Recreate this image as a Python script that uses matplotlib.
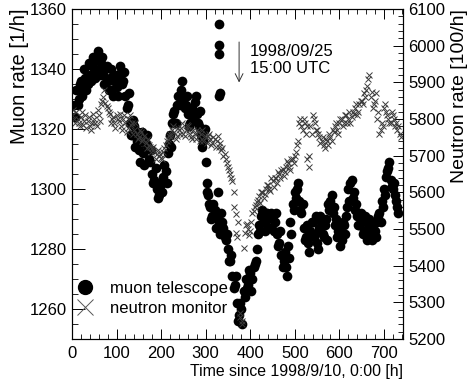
import numpy as np
import matplotlib
matplotlib.use("Agg")
import matplotlib.pyplot as plt
from matplotlib.lines import Line2D
from matplotlib.ticker import MultipleLocator

plt.rcParams['font.family'] = ['Liberation Sans', 'DejaVu Sans']
plt.rcParams['font.size'] = 12

# muon telescope, counts per hour (read every 5 h, two readings per step)
muon_t = list(range(5, 735, 5))
muon_rate = [1328, 1333, 1330, 1336, 1333, 1337, 1335, 1338, 1341, 1339,
             1343, 1340, 1342, 1338, 1340, 1336, 1337, 1333, 1336, 1334,
             1338, 1339, 1336, 1331, 1328, 1322, 1318, 1321, 1316, 1313,
             1316, 1312, 1315, 1314, 1309, 1305, 1303, 1300, 1298, 1302,
             1304, 1306, 1312, 1318, 1322, 1326, 1328, 1331, 1333, 1330,
             1328, 1325, 1322, 1327, 1329, 1325, 1321, 1318, 1316, 1309,
             1298, 1294, 1291, 1293, 1290, 1288, 1292, 1287, 1283, 1280,
             1276, 1271, 1268, 1262, 1258, 1260, 1266, 1270, 1268, 1272,
             1270, 1275, 1280, 1288, 1291, 1289, 1292, 1290, 1287, 1291,
             1289, 1285, 1282, 1278, 1276, 1274, 1281, 1289, 1295, 1299,
             1300, 1296, 1292, 1287, 1284, 1282, 1286, 1289, 1285, 1282,
             1287, 1289, 1284, 1290, 1295, 1296, 1292, 1288, 1284, 1286,
             1283, 1288, 1291, 1300, 1302, 1297, 1293, 1291, 1288, 1290,
             1286, 1289, 1287, 1285, 1288, 1286, 1289, 1292, 1296, 1300,
             1304, 1307, 1303, 1300, 1298, 1294]
muon_t_b = [t + 2.5 for t in muon_t]
muon_rate_b = [1324, 1328, 1335, 1331, 1340, 1333, 1342, 1336, 1344, 1337,
               1346, 1338, 1344, 1335, 1341, 1333, 1340, 1331, 1338, 1331,
               1341, 1335, 1339, 1327, 1332, 1318, 1323, 1314, 1319, 1309,
               1319, 1308, 1318, 1310, 1313, 1302, 1307, 1297, 1301, 1299,
               1308, 1302, 1315, 1314, 1325, 1322, 1331, 1328, 1336, 1327,
               1331, 1321, 1325, 1323, 1331, 1322, 1326, 1314, 1320, 1302,
               1295, 1290, 1295, 1287, 1292, 1285, 1289, 1284, 1285, 1276,
               1278, 1267, 1271, 1256, 1262, 1255, 1264, 1267, 1273, 1266,
               1274, 1276, 1285, 1286, 1293, 1286, 1292, 1287, 1292, 1286,
               1292, 1281, 1286, 1274, 1279, 1271, 1277, 1285, 1293, 1297,
               1302, 1293, 1295, 1283, 1288, 1279, 1289, 1284, 1291, 1280,
               1291, 1285, 1288, 1283, 1293, 1298, 1294, 1290, 1286, 1281,
               1289, 1285, 1294, 1296, 1303, 1299, 1295, 1288, 1292, 1285,
               1291, 1283, 1290, 1283, 1289, 1284, 1291, 1289, 1294, 1298,
               1306, 1309, 1301, 1302, 1296, 1292]
# isolated muon points around the jump
muon_extra_t = [302, 327, 331, 331, 331, 331, 332]
muon_extra = [1299, 1299, 1355, 1348, 1345, 1331, 1332]

# neutron monitor, counts per 100 h
neutron_t = [0, 5, 10, 15, 20, 25, 30, 35, 40, 45, 50, 55, 60, 65, 70, 75,
             80, 85, 90, 95, 100, 105, 110, 115, 120, 125, 130, 135, 140,
             145, 150, 155, 160, 165, 170, 175, 180, 185, 190, 195, 200,
             205, 210, 215, 220, 225, 230, 235, 240, 245, 250, 255, 260,
             265, 270, 275, 280, 285, 290, 295, 300, 305, 310, 315, 320,
             325, 330, 335, 340, 345, 350, 355, 360, 363, 367, 370, 378,
             382, 385, 390, 395, 400, 405, 410, 415, 420, 425, 430, 435,
             440, 445, 450, 455, 460, 465, 470, 475, 480, 485, 490, 495,
             500, 505, 510, 515, 520, 525, 528, 531, 535, 540, 545, 550,
             555, 560, 565, 570, 575, 580, 585, 590, 595, 600, 605, 610,
             615, 620, 625, 630, 635, 640, 645, 650, 655, 660, 665, 670,
             675, 680, 685, 690, 695, 700, 705, 710, 715, 720, 725, 730,
             735]
neutron_rate = [5810, 5800, 5820, 5790, 5805, 5785, 5810, 5795, 5780, 5790,
                5800, 5780, 5810, 5840, 5860, 5845, 5830, 5815, 5800, 5790,
                5810, 5795, 5780, 5800, 5790, 5775, 5810, 5790, 5770, 5760,
                5750, 5765, 5745, 5735, 5745, 5725, 5720, 5710, 5705, 5700,
                5695, 5710, 5730, 5745, 5760, 5770, 5765, 5755, 5770, 5775,
                5760, 5770, 5780, 5760, 5745, 5760, 5770, 5755, 5760, 5740,
                5750, 5755, 5745, 5735, 5745, 5740, 5725, 5715, 5700, 5690,
                5670, 5650, 5630, 5560, 5490, 5478, 5260, 5240, 5448, 5510,
                5500, 5495, 5545, 5560, 5575, 5590, 5600, 5585, 5610, 5620,
                5605, 5630, 5640, 5625, 5650, 5660, 5645, 5670, 5680, 5660,
                5690, 5700, 5730, 5790, 5780, 5800, 5760, 5690, 5670, 5780,
                5810, 5790, 5770, 5750, 5740, 5730, 5745, 5730, 5750, 5770,
                5780, 5770, 5790, 5800, 5790, 5810, 5800, 5790, 5820, 5830,
                5810, 5840, 5850, 5870, 5880, 5910, 5860, 5830, 5850, 5800,
                5760, 5790, 5830, 5820, 5800, 5790, 5810, 5780, 5770, 5760]
neutron_t_b = [t + 2.5 for t in range(0, 740, 5)]
neutron_rate_b = [5825, 5790, 5800, 5780, 5820, 5795, 5775, 5805, 5770, 5815,
                  5790, 5825, 5795, 5850, 5880, 5835, 5820, 5790, 5805, 5775,
                  5800, 5815, 5770, 5810, 5765, 5800, 5785, 5760, 5790, 5745,
                  5770, 5740, 5755, 5720, 5730, 5710, 5725, 5690, 5715, 5705,
                  5690, 5720, 5740, 5755, 5750, 5780, 5745, 5775, 5760, 5790,
                  5755, 5785, 5770, 5750, 5770, 5745, 5765, 5740, 5770, 5755,
                  5735, 5760, 5730, 5750, 5725, 5755, 5735, 5720, 5705, 5680,
                  5660, 5640, 5600, 5540, 5520, 5270, 5250, 5490, 5515, 5485,
                  5520, 5550, 5565, 5580, 5570, 5600, 5595, 5620, 5610, 5640,
                  5615, 5640, 5655, 5640, 5665, 5655, 5685, 5670, 5690, 5680,
                  5710, 5740, 5800, 5770, 5790, 5780, 5700, 5760, 5800, 5770,
                  5760, 5735, 5750, 5720, 5740, 5760, 5740, 5765, 5790, 5760,
                  5800, 5780, 5810, 5790, 5820, 5805, 5815, 5840, 5820, 5850,
                  5840, 5860, 5890, 5920, 5875, 5840, 5870, 5820, 5770, 5780,
                  5840, 5810, 5790, 5820, 5800, 5790, 5780, 5750]

event_t = 375  # 1998/09/25 15:00 UTC

fig = plt.figure(figsize=(4.69, 3.84), dpi=100)
ax = fig.add_axes([0.1535, 0.117, 0.705, 0.8596])
ax2 = ax.twinx()

mt = np.concatenate([muon_t, muon_t_b, muon_extra_t])
mr = np.concatenate([muon_rate, muon_rate_b, muon_extra])
ax.plot(mt, mr, 'o', color='black', ms=7, mec='black', mew=0)

nt = np.concatenate([neutron_t, neutron_t_b])
nr = np.concatenate([neutron_rate, neutron_rate_b])
ax2.plot(nt, nr, 'x', color='#3a3a3a', ms=4.5, mew=0.7)

ax.set_xlim(0, 742)
ax.set_ylim(1250, 1360)
ax2.set_ylim(5200, 6100)

ax.xaxis.set_major_locator(MultipleLocator(100))
ax.xaxis.set_minor_locator(MultipleLocator(20))
ax.yaxis.set_major_locator(MultipleLocator(20))
ax.yaxis.set_minor_locator(MultipleLocator(5))
ax2.yaxis.set_major_locator(MultipleLocator(100))
ax2.yaxis.set_minor_locator(MultipleLocator(20))

ax.tick_params(axis='x', which='both', direction='in', top=True, pad=5)
ax.tick_params(axis='x', which='major', length=7, width=0.7)
ax.tick_params(axis='x', which='minor', length=3.5, width=0.6)
ax.tick_params(axis='y', which='both', direction='in', right=False, pad=4)
ax.tick_params(axis='y', which='major', length=9, width=0.7)
ax.tick_params(axis='y', which='minor', length=4.5, width=0.6)
ax2.tick_params(axis='y', which='both', direction='in', pad=4)
ax2.tick_params(axis='y', which='major', length=7, width=0.7)
ax2.tick_params(axis='y', which='minor', length=3.5, width=0.6)
for a in (ax, ax2):
    for s in a.spines.values():
        s.set_linewidth(0.8)

ax.set_xlabel('Time since 1998/9/10, 0:00 [h]', loc='right', labelpad=2,
              fontsize=11.4)
ax.set_ylabel('Muon rate [1/h]', loc='top', labelpad=0, fontsize=14.5)
ax2.set_ylabel('Neutron rate [100/h]', loc='top', labelpad=4, fontsize=14)

ax.annotate('', xy=(event_t, 1335.5), xytext=(event_t, 1349),
            arrowprops=dict(arrowstyle='->', color='#333333', lw=0.7,
                            mutation_scale=14, shrinkA=0, shrinkB=0))
ax.text(event_t + 25, 1343, '1998/09/25\n15:00 UTC', ha='left', va='center',
        linespacing=1.2)

handles = [Line2D([], [], ls='', marker='o', color='black', ms=10),
           Line2D([], [], ls='', marker='x', color='#555555', ms=11, mew=0.7)]
ax2.legend(handles, ['muon telescope', 'neutron monitor'], loc='lower left',
           bbox_to_anchor=(-0.02, 0.04), frameon=False, handlelength=1.2,
           handletextpad=0.9, labelspacing=0.3, borderaxespad=0.2)

fig.savefig('out.png', dpi=100)
